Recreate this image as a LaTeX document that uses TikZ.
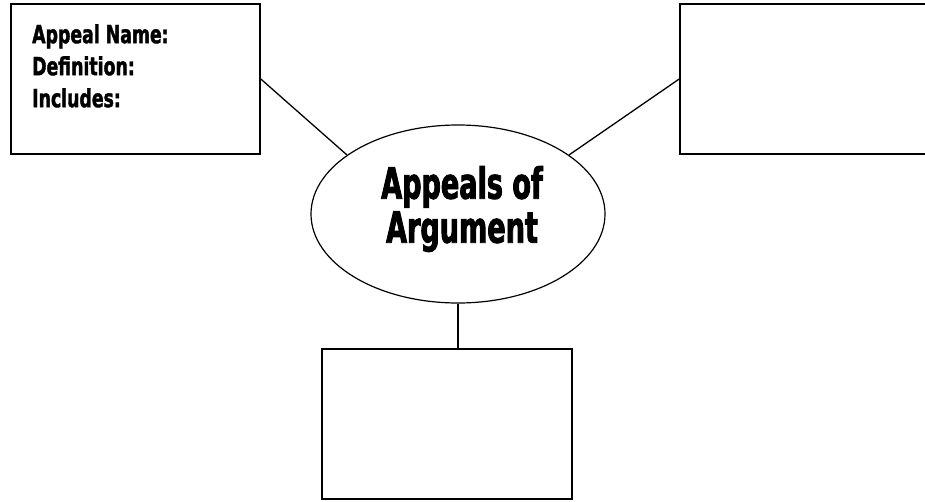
\documentclass[tikz,border=0pt]{standalone}
\usepackage{fontspec}
\newfontfamily\impactbig[FakeStretch=0.70, FakeBold=2]{DejaVu Sans Condensed Bold}
\newfontfamily\impactsmall[FakeStretch=0.77, FakeBold=1.5]{DejaVu Sans Condensed Bold}
\usetikzlibrary{shapes.geometric}
\tikzset{
  boxnode/.style={draw, line width=1.6pt, rectangle, inner sep=0pt, minimum width=249pt, minimum height=150pt},
  hub/.style={draw, line width=1.2pt, ellipse, inner sep=0pt, minimum width=294pt, minimum height=178pt},
  link/.style={line width=1.3pt},
  smalltxt/.style={font=\impactsmall\fontsize{25}{32}\selectfont, align=left, inner sep=0pt},
  bigtxt/.style={font=\impactbig\fontsize{43}{44}\selectfont, align=center, inner sep=0pt}
}
\begin{document}
\begin{tikzpicture}[x=1pt,y=-1pt]
\useasboundingbox (0,0) rectangle (925,501);
\clip (0,0) rectangle (925,501);
\fill[white] (0,0) rectangle (925,501);
\node[boxnode] (lb) at (135.5,79) {};
\node[boxnode] (rb) at (804.5,79) {};
\node[boxnode, minimum width=250pt] (bb) at (447,424) {};
\node[hub] (el) at (458,214) {};
\node[smalltxt, anchor=north west] (lt) at (32,24) {Appeal Name:\\Definition:\\Includes:};
\node[bigtxt] (et) at (462,209) {Appeals of\\Argument};
\draw[link] (lb.east) -- (el.152);
\draw[link] (rb.west) -- (el.28);
\draw[link] (el.south) -- (bb.north -| el.south);
\end{tikzpicture}
\end{document}
